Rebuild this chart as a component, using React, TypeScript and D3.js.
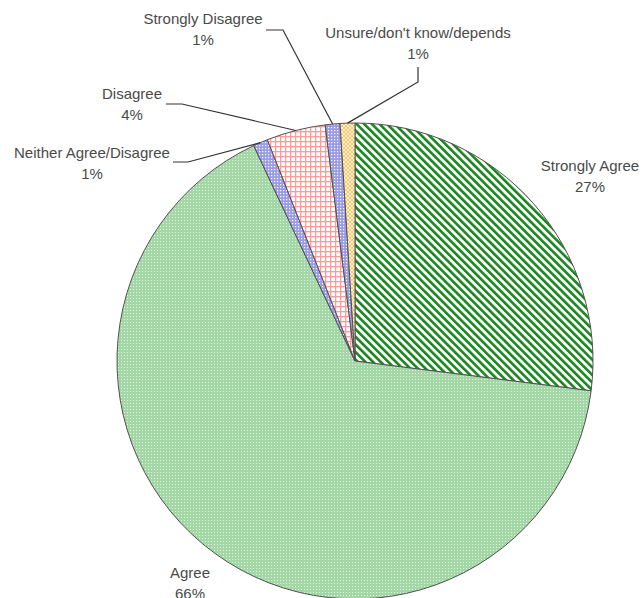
import React from 'react';
import * as d3 from 'd3';

// survey answers, clockwise from 12 o'clock
const categories = [
  'Strongly Agree',
  'Agree',
  'Neither Agree/Disagree',
  'Disagree',
  'Strongly Disagree',
  'Unsure/don\'t know/depends',
];
const values = [27, 66, 1, 4, 1, 1];
const percentLabels = ['27%', '66%', '1%', '4%', '1%', '1%'];

// fill pattern id for each slice
const patternIds = ['stripes', 'dotsGreen', 'dotsBlue', 'grid', 'dotsBlue', 'check'];

// label layout: text anchor point plus an optional elbow for the leader line
const labelLayout = [
  { x: 590, y: 171, leader: null },
  { x: 190, y: 578, leader: null },
  { x: 92, y: 158, leader: { x0: 173, y0: 162, x1: 188, y1: 162 } },
  { x: 132, y: 99, leader: { x0: 166, y0: 104, x1: 182, y1: 104 } },
  { x: 203, y: 24, leader: { x0: 266, y0: 30, x1: 283, y1: 30 } },
  { x: 418, y: 38, leader: { x0: 418, y0: 67, x1: 418, y1: 82 } },
];

const width = 643;
const height = 598;
const cx = 355;
const cy = 361;
const radius = 238;
const textColor = '#4a4a4a';

function App() {
  const pie = d3
    .pie<number>()
    .sort(null)
    .value((d) => d);
  const arcs = pie(values);

  const arcGen = d3
    .arc<d3.PieArcDatum<number>>()
    .innerRadius(0)
    .outerRadius(radius);

  // point on the rim at the slice's middle angle
  const rimPoint = (a: d3.PieArcDatum<number>) => {
    const mid = (a.startAngle + a.endAngle) / 2;
    return [cx + radius * Math.sin(mid), cy - radius * Math.cos(mid)];
  };

  return (
    <svg
      width={width}
      height={height}
      style={{ position: 'absolute', left: 0, top: 0, background: '#fff' }}
    >
      <defs>
        <pattern id="stripes" width="5.4" height="5.4" patternUnits="userSpaceOnUse" patternTransform="rotate(-45)">
          <rect width="5.4" height="5.4" fill="#fff" />
          <rect width="2.6" height="5.4" fill="#17871d" />
        </pattern>
        <pattern id="dotsGreen" width="3" height="3" patternUnits="userSpaceOnUse">
          <rect width="3" height="3" fill="#a3d8a6" />
          <rect width="1" height="1" fill="#e4f4e4" />
        </pattern>
        <pattern id="dotsBlue" width="3" height="3" patternUnits="userSpaceOnUse">
          <rect width="3" height="3" fill="#9b9be6" />
          <rect width="1.2" height="1.2" fill="#fff" />
        </pattern>
        <pattern id="grid" width="5" height="5" patternUnits="userSpaceOnUse">
          <rect width="5" height="5" fill="#fff" />
          <rect width="5" height="1.3" fill="#ff9a9a" />
          <rect width="1.3" height="5" fill="#ff9a9a" />
        </pattern>
        <pattern id="check" width="4" height="4" patternUnits="userSpaceOnUse">
          <rect width="4" height="4" fill="#ffc766" />
          <rect width="2" height="2" fill="#fff3dc" />
          <rect x="2" y="2" width="2" height="2" fill="#fff3dc" />
        </pattern>
      </defs>

      <g transform={`translate(${cx}, ${cy})`}>
        {arcs.map((a, i) => (
          <path
            key={categories[i]}
            d={arcGen(a) || ''}
            fill={`url(#${patternIds[i]})`}
            stroke="#505050"
            strokeWidth={1}
            strokeLinejoin="round"
          />
        ))}
      </g>

      {arcs.map((a, i) => {
        const lay = labelLayout[i];
        const [px, py] = rimPoint(a);
        return (
          <g key={'lab' + i}>
            {lay.leader && (
              <polyline
                points={`${lay.leader.x0},${lay.leader.y0} ${lay.leader.x1},${lay.leader.y1} ${px},${py}`}
                fill="none"
                stroke="#333"
                strokeWidth={1.2}
              />
            )}
            <text
              x={lay.x}
              y={lay.y}
              textAnchor="middle"
              fontFamily="Liberation Sans, Arial, sans-serif"
              fontSize={15}
              fill={textColor}
            >
              <tspan x={lay.x}>{categories[i]}</tspan>
              <tspan x={lay.x} dy={21}>{percentLabels[i]}</tspan>
            </text>
          </g>
        );
      })}
    </svg>
  );
}

export default App;
